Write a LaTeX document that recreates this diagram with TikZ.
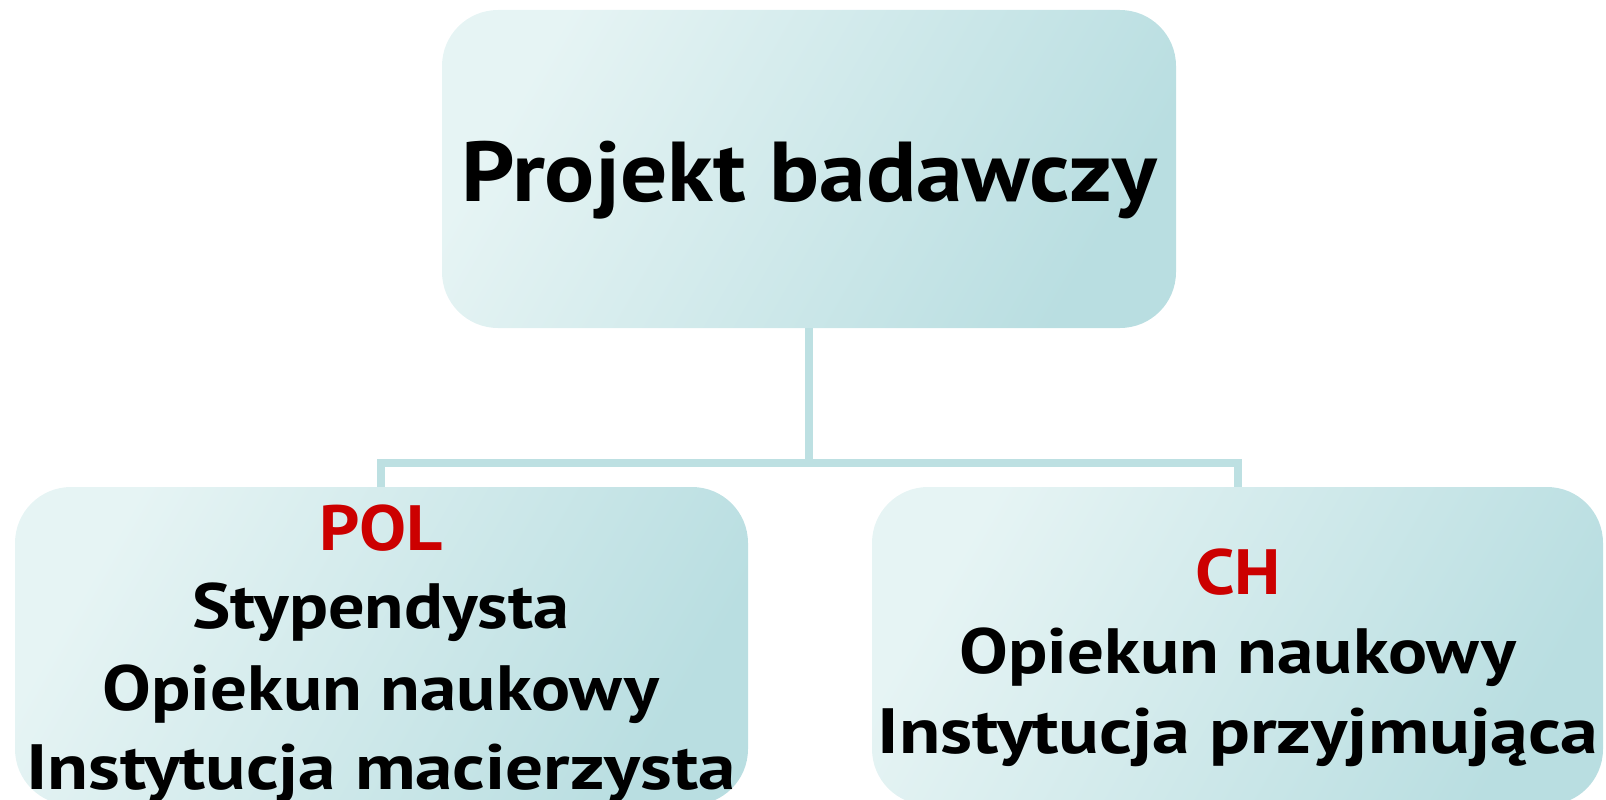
\documentclass[tikz,border=0pt]{standalone}
\usepackage{fontspec}
\setmainfont{PT Sans}
\definecolor{boxlight}{HTML}{E6F4F4}
\definecolor{boxdark}{HTML}{B9DEE1}
\definecolor{conn}{HTML}{BDE0E2}
\definecolor{redtxt}{HTML}{CC0000}
\newcommand{\wx}[2]{\scalebox{#1}[1]{#2}}
\tikzset{
  box/.style={rounded corners=56pt, shading=axis, top color=boxlight, bottom color=boxdark, shading angle=60, draw=none},
  conline/.style={draw=conn, line width=8pt},
  ttl/.style={font=\bfseries\fontsize{85}{85}\selectfont, inner sep=0pt, anchor=base},
  lbl/.style={font=\bfseries\fontsize{64}{64}\selectfont, inner sep=0pt, anchor=base},
}
\begin{document}
\begin{tikzpicture}[x=1pt,y=-1pt]
\useasboundingbox (0,0) rectangle (1606,800);
% boxes
\path[box] (442,10) rectangle (1176,328);
\coordinate (topS) at (809,328);
\path[box] (15,487) rectangle (748,805);
\coordinate (leftN) at (381,487);
\path[box] (872,487) rectangle (1603,805);
\coordinate (rightN) at (1238,487);
% connectors
\draw[conline] (topS) -- (809,463) coordinate (mid) -| (leftN);
\draw[conline] (mid) -| (rightN);
% texts
\node[ttl] (title) at (809,201) {\wx{1.10}{Projekt badawczy}};
\node[lbl, text=redtxt] (pol) at (381,550) {\wx{1.10}{POL}};
\node[lbl] (l1) at (381,628) {\wx{1.13}{Stypendysta}};
\node[lbl] (l2) at (381,710) {\wx{1.14}{Opiekun naukowy}};
\node[lbl] (l3) at (381,789) {\wx{1.175}{Instytucja macierzysta}};
\node[lbl, text=redtxt] (ch) at (1238,594) {\wx{1.11}{CH}};
\node[lbl] (r1) at (1238,673) {\wx{1.14}{Opiekun naukowy}};
\node[lbl] (r2) at (1238,753) {\wx{1.185}{Instytucja przyjmująca}};
\end{tikzpicture}
\end{document}
